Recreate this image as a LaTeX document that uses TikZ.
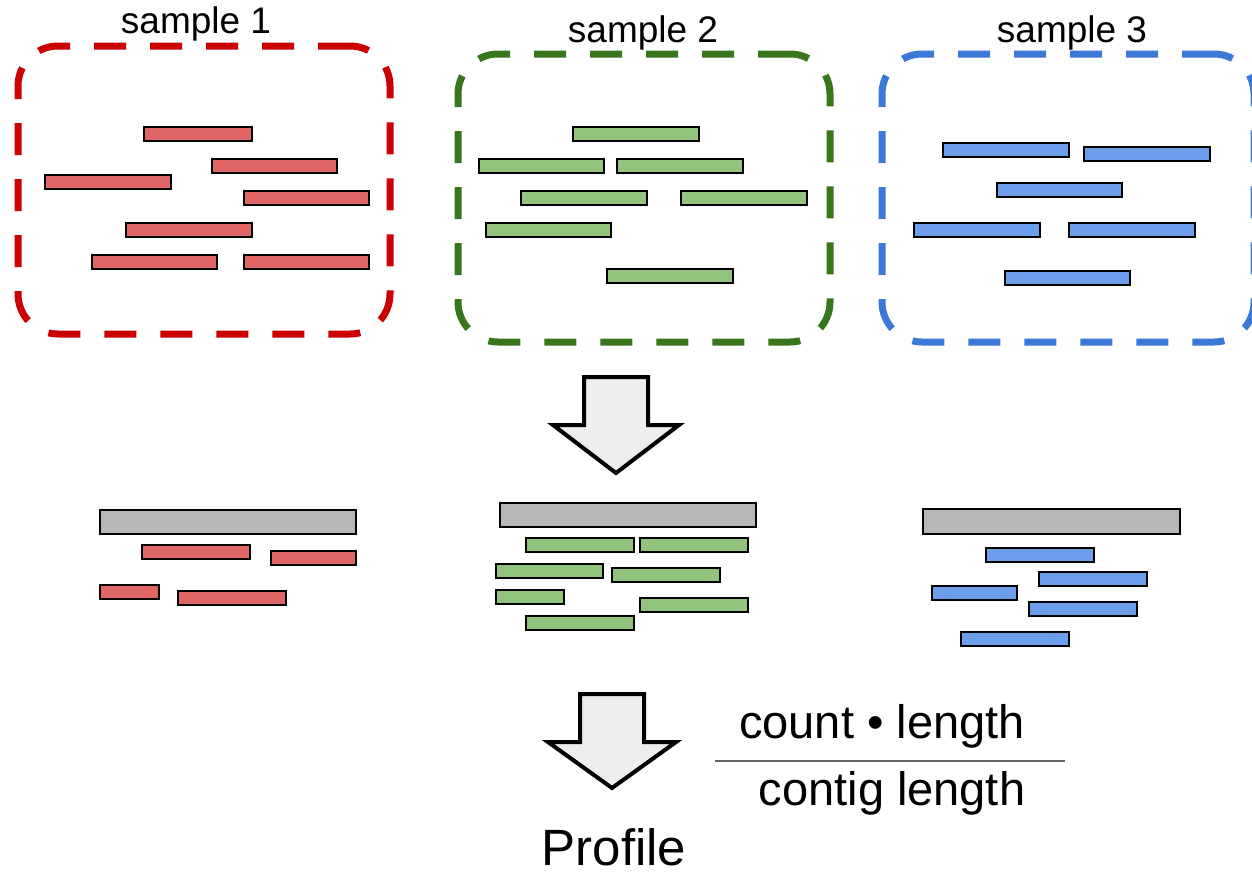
\documentclass[tikz,border=0pt]{standalone}
\usepackage{fontspec}
\setmainfont{Liberation Sans}
\definecolor{sampred}{HTML}{CC0000}
\definecolor{sampgreen}{HTML}{38761D}
\definecolor{sampblue}{HTML}{3C78D8}
\definecolor{readred}{HTML}{E06666}
\definecolor{readgreen}{HTML}{93C47D}
\definecolor{readblue}{HTML}{6D9EEB}
\definecolor{contiggray}{HTML}{B7B7B7}
\definecolor{arrowfill}{HTML}{EEEEEE}
\definecolor{edgegray}{HTML}{434343}
\tikzset{
  samplebox/.style={draw=#1, line width=7pt, dash pattern=on 32pt off 24pt,
    rounded corners=40pt, minimum width=372pt, minimum height=288pt,
    inner sep=0pt, outer sep=0pt},
  readbar/.style={fill=#1, draw=black, line width=1.6pt, inner sep=0pt, outer sep=0pt},
  label/.style={font=\fontsize{37}{44}\selectfont, anchor=base, inner sep=0pt},
  bigtext/.style={font=\fontsize{47}{56}\selectfont, anchor=base, inner sep=0pt},
  blockarrow/.style={fill=arrowfill, draw=black, line width=4pt, line join=miter},
}
% a read/contig bar given by its name, style and its two corners (x1,y1) (x2,y2)
\newcommand\readat[6]{%
  \node[#2, minimum width={(#5-#3)*1pt}, minimum height={(#6-#4)*1pt}]
    (#1) at ({(#3+#5)/2},{(#4+#6)/2}) {};}
\begin{document}
\begin{tikzpicture}[x=1pt, y=-1pt]
\useasboundingbox (0,0) rectangle (1252,873);

% --- sample containers ---
\node[samplebox=sampred]   (box1) at (204,190) {};
\node[samplebox=sampgreen] (box2) at (644,198) {};
\node[samplebox=sampblue]  (box3) at (1068,198) {};
\node[label] (lab1) at (196,33) {sample 1};
\node[label] (lab2) at (643,42) {sample 2};
\node[label] (lab3) at (1072,42) {sample 3};

% --- reads of sample 1 ---
\begin{scope}[every node/.append style={draw=edgegray}]
\readat{r1a}{readbar=readred}{144}{127}{252}{141}
\readat{r1b}{readbar=readred}{212}{159}{337}{173}
\readat{r1c}{readbar=readred}{45}{175}{171}{189}
\readat{r1d}{readbar=readred}{244}{191}{369}{205}
\readat{r1e}{readbar=readred}{126}{223}{252}{237}
\readat{r1f}{readbar=readred}{92}{255}{217}{269}
\readat{r1g}{readbar=readred}{244}{255}{369}{269}
\end{scope}

% --- reads of sample 2 ---
\readat{r2a}{readbar=readgreen}{573}{127}{699}{141}
\readat{r2b}{readbar=readgreen}{479}{159}{604}{173}
\readat{r2c}{readbar=readgreen}{617}{159}{743}{173}
\readat{r2d}{readbar=readgreen}{521}{191}{647}{205}
\readat{r2e}{readbar=readgreen}{681}{191}{807}{205}
\readat{r2f}{readbar=readgreen}{486}{223}{611}{237}
\readat{r2g}{readbar=readgreen}{607}{269}{733}{283}

% --- reads of sample 3 ---
\readat{r3a}{readbar=readblue}{943}{143}{1069}{157}
\readat{r3b}{readbar=readblue}{1084}{147}{1210}{161}
\readat{r3c}{readbar=readblue}{997}{183}{1122}{197}
\readat{r3d}{readbar=readblue}{914}{223}{1040}{237}
\readat{r3e}{readbar=readblue}{1069}{223}{1195}{237}
\readat{r3f}{readbar=readblue}{1005}{271}{1130}{285}

% --- mapping arrow ---
\draw[blockarrow] (584,377) -- (648,377) -- (648,425) -- (679,425) -- (616,473)
  -- (553,425) -- (584,425) -- cycle;

% --- reads mapped to the contig: sample 1 ---
\readat{c1}{readbar=contiggray}{100}{510}{356}{534}
\readat{m1a}{readbar=readred}{142}{545}{250}{559}
\readat{m1b}{readbar=readred}{271}{551}{356}{565}
\readat{m1c}{readbar=readred}{100}{585}{159}{599}
\readat{m1d}{readbar=readred}{178}{591}{286}{605}

% --- sample 2 ---
\readat{c2}{readbar=contiggray}{500}{503}{756}{527}
\readat{m2a}{readbar=readgreen}{526}{538}{634}{552}
\readat{m2b}{readbar=readgreen}{640}{538}{748}{552}
\readat{m2c}{readbar=readgreen}{496}{564}{603}{578}
\readat{m2d}{readbar=readgreen}{612}{568}{720}{582}
\readat{m2e}{readbar=readgreen}{496}{590}{564}{604}
\readat{m2f}{readbar=readgreen}{640}{598}{748}{612}
\readat{m2g}{readbar=readgreen}{526}{616}{634}{630}

% --- sample 3 ---
\readat{c3}{readbar=contiggray}{923}{509}{1180}{534}
\readat{m3a}{readbar=readblue}{986}{548}{1094}{562}
\readat{m3b}{readbar=readblue}{1039}{572}{1147}{586}
\readat{m3c}{readbar=readblue}{932}{586}{1017}{600}
\readat{m3d}{readbar=readblue}{1029}{602}{1137}{616}
\readat{m3e}{readbar=readblue}{961}{632}{1069}{646}

% --- profile arrow and formula ---
\draw[blockarrow] (580,694) -- (644,694) -- (644,742) -- (676,742) -- (612,788)
  -- (548,742) -- (580,742) -- cycle;
\node[bigtext] (num) at (882,738) {count • length};
\node[bigtext] (den) at (892,805) {contig length};
\coordinate (fracL) at (715,761);
\coordinate (fracR) at (1065,761);
\draw[draw=black!60, line width=1.5pt] (fracL) -- (fracR);
\node[bigtext, font=\fontsize{51}{60}\selectfont] (prof) at (614,865) {Profile};
\end{tikzpicture}
\end{document}
